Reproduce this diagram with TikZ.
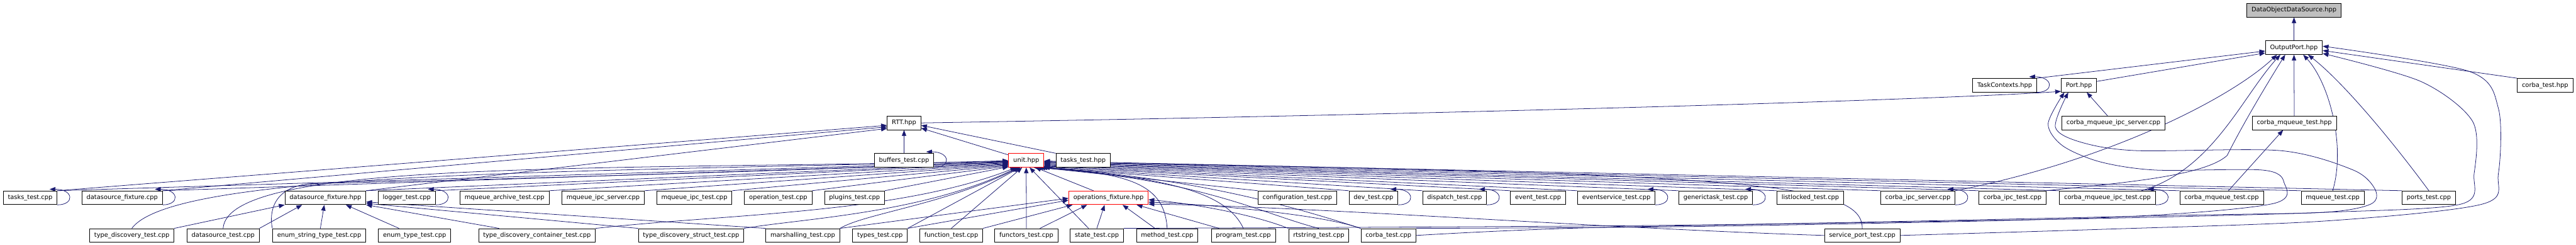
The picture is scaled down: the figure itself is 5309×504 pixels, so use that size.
\documentclass[tikz,border=0pt]{standalone}
\usepackage{fontspec}
\setmainfont{DejaVu Sans}
\usepackage{tikz}
\usetikzlibrary{arrows.meta}
\definecolor{edgeblue}{HTML}{191970}
\definecolor{rootgray}{HTML}{BFBFBF}
\pgfdeclarelayer{back}
\pgfsetlayers{back,main}
% a file that includes itself
\newcommand{\selfdep}[1]{%
  \draw[dep] (#1.south east) .. controls +(36,0) and +(50,0) .. ([xshift=-16pt,yshift=3pt]#1.north east);}

\begin{document}
\begin{tikzpicture}[x=1pt, y=-1pt,
  file/.style={draw=black, line width=1.1pt, fill=white, minimum height=28pt,
    inner xsep=9.5pt, inner ysep=0pt, text height=9.6pt, text depth=2.8pt,
    font=\fontsize{12.8}{15}\selectfont},
  rootfile/.style={file, fill=rootgray},
  redfile/.style={file, draw=red},
  dep/.style={draw=edgeblue, line width=1pt, -{Triangle[length=12pt,width=9pt]}}]
\useasboundingbox (0,0) rectangle (5309,504);

% headers at the top
\node[rootfile] (dods) at (4727.8,21) {DataObjectDataSource.hpp};
\node[file] (op) at (4727.7,98) {OutputPort.hpp};
\node[file] (tctx) at (4131.5,175.5) {TaskContexts.hpp};
\node[file] (port) at (4284.6,175.5) {Port.hpp};
\node[file] (cth) at (5245.3,175.5) {corba\_test.hpp};
\node[file] (rtt) at (1863.2,253) {RTT.hpp};
\node[file] (cmis) at (4355.6,253) {corba\_mqueue\_ipc\_server.cpp};
\node[file] (cmth) at (4728.4,253) {corba\_mqueue\_test.hpp};
\node[file] (bt) at (1863.2,330) {buffers\_test.cpp};
\node[redfile] (unit) at (2115,330) {unit.hpp};
\node[file] (tth) at (2232.4,330) {tasks\_test.hpp};

% middle row
\node[file] (tt) at (62.2,407) {tasks\_test.cpp};
\node[file] (dfc) at (251.8,407) {datasource\_fixture.cpp};
\node[file] (dfh) at (670.7,407) {datasource\_fixture.hpp};
\node[file] (lt) at (838.3,407) {logger\_test.cpp};
\node[file] (mat) at (1039.8,407) {mqueue\_archive\_test.cpp};
\node[file] (mis) at (1243,407) {mqueue\_ipc\_server.cpp};
\node[file] (mit) at (1431,407) {mqueue\_ipc\_test.cpp};
\node[file] (ot) at (1603.9,407) {operation\_test.cpp};
\node[file] (pt) at (1761.2,407) {plugins\_test.cpp};
\node[redfile] (ofh) at (2284.5,407) {operations\_fixture.hpp};
\node[file] (ct) at (2673.8,407) {configuration\_test.cpp};
\node[file] (dvt) at (2830.6,407) {dev\_test.cpp};
\node[file] (dpt) at (2997.8,407) {dispatch\_test.cpp};
\node[file] (evt) at (3169.8,407) {event\_test.cpp};
\node[file] (evst) at (3331.1,407) {eventservice\_test.cpp};
\node[file] (gtt) at (3536,407) {generictask\_test.cpp};
\node[file] (llt) at (3730.9,407) {listlocked\_test.cpp};
\node[file] (cis) at (3952.5,407) {corba\_ipc\_server.cpp};
\node[file] (cit) at (4147.6,407) {corba\_ipc\_test.cpp};
\node[file] (cmit) at (4343.4,407) {corba\_mqueue\_ipc\_test.cpp};
\node[file] (cmt) at (4578.6,407) {corba\_mqueue\_test.cpp};
\node[file] (mqt) at (4807.5,407) {mqueue\_test.cpp};
\node[file] (pot) at (5005.7,407) {ports\_test.cpp};

% bottom row
\node[file] (tdt) at (271.7,484.5) {type\_discovery\_test.cpp};
\node[file] (dst) at (459.8,484.5) {datasource\_test.cpp};
\node[file] (estt) at (657.8,484.5) {enum\_string\_type\_test.cpp};
\node[file] (ett) at (854.4,484.5) {enum\_type\_test.cpp};
\node[file] (tdct) at (1106.7,484.5) {type\_discovery\_container\_test.cpp};
\node[file] (tdst) at (1424.3,484.5) {type\_discovery\_struct\_test.cpp};
\node[file] (mt) at (1654.5,484.5) {marshalling\_test.cpp};
\node[file] (tyt) at (1813.7,484.5) {types\_test.cpp};
\node[file] (ft) at (1960.5,484.5) {function\_test.cpp};
\node[file] (fct) at (2115.3,484.5) {functors\_test.cpp};
\node[file] (stt) at (2260.5,484.5) {state\_test.cpp};
\node[file] (mtt) at (2405.4,484.5) {method\_test.cpp};
\node[file] (prt) at (2562.5,484.5) {program\_test.cpp};
\node[file] (rst) at (2717.9,484.5) {rtstring\_test.cpp};
\node[file] (ctc) at (2861.5,484.5) {corba\_test.cpp};
\node[file] (spt) at (3838,484.5) {service\_port\_test.cpp};

\begin{pgfonlayer}{back}
% OutputPort.hpp and Port.hpp
\draw[dep] (op) -- (dods);
\draw[dep] (tctx.north east) -- ([yshift=-7pt]op.west);
\draw[dep] ([yshift=8pt]port.east) -- ([yshift=-11pt]op.west);
\draw[dep] (cmth) -- (op);
\draw[dep] (cth.north west) -- ([yshift=-6pt]op.east);
\draw[dep] (cis.north east) .. controls (4350,330) and (4600,200) .. ([xshift=-35pt]op.south);
\draw[dep] ([xshift=70pt]cmit.north) .. controls (4560,350) and (4620,200) .. ([xshift=-28pt]op.south);
\draw[dep] (cit.north east) .. controls (4350,378) and (4540,365) .. (4590,320) .. controls (4625,250) and (4680,160) .. ([xshift=-18pt]op.south);
\draw[dep] (mqt.north) .. controls (4835,300) and (4800,170) .. ([xshift=19pt]op.south);
\draw[dep] (pot.north) .. controls (4930,290) and (4830,170) .. ([xshift=29pt]op.south);
\draw[dep] plot[smooth] coordinates {(ctc.east) (3300,468) (4300,450) (4789,437) (5072,420) (5099,357) (5096,250) (4990,168) ([yshift=-12pt]op.east)};
\draw[dep] plot[smooth] coordinates {(spt.east) (4330,472) (4789,455) (5116,420) (5149,357) (5149,223) (5089,147) ([yshift=3pt]op.east)};
\draw[dep] ([xshift=-12pt]cmis.north) -- ([xshift=16pt]port.south);
\draw[dep] (rtt.east) .. controls (3000,235) and (4000,205) .. ([yshift=2pt]port.south west);
\draw[dep] plot[smooth] coordinates {(stt.north east) (3500,463) (4500,443) (4789,437) (4886,420) (4895,390) (4850,350) (4700,310) (4404,310) (4290,293) (4236,262) ([xshift=-22pt]port.south)};
\draw[dep] plot[smooth] coordinates {(ctc.north east) (3500,466) (4330,448) (4680,420) (4707,375) (4663,350) (4443,350) (4328,333) (4251,300) (4221,255) ([xshift=-30pt]port.south)};
\draw[dep] ([xshift=14pt]cmt.north) -- ([xshift=-23pt]cmth.south);

% RTT.hpp
\draw[dep] (tt.north east) -- (rtt.188);
\draw[dep] (dfc.north east) -- (rtt.193);
\draw[dep] (dfh.north east) -- (rtt.198);
\draw[dep] (bt) -- (rtt);
\draw[dep] (unit) -- (rtt);
\draw[dep] (tth.north west) -- (rtt.-8);

% unit.hpp from the left
\draw[dep] (tt.north east) -- (unit.184);
\draw[dep] (dfc.north east) -- (unit.186);
\draw[dep] (dfh.north east) -- (unit.188);
\draw[dep] (lt.north east) -- (unit.190);
\draw[dep] (mat.north east) -- (unit.192);
\draw[dep] (mis.north east) -- (unit.194);
\draw[dep] (mit.north east) -- (unit.196);
\draw[dep] (ot.north east) -- (unit.198);
\draw[dep] (pt.north east) -- (unit.200);
\draw[dep] (tdt.north) .. controls (360,350) and (1200,355) .. (unit.181);
\draw[dep] (dst.north) .. controls (470,330) and (1200,350) .. (unit.183);
\draw[dep] (estt.north west) .. controls (555,440) and (560,385) .. (640,378) .. controls (1200,365) and (1800,345) .. (unit.185);
\draw[dep] (tdct.north east) .. controls (1500,440) and (1850,440) .. (unit.215);
\draw[dep] (tdst.north east) .. controls (1650,450) and (1900,440) .. (unit.220);
\draw[dep] (mt.north east) .. controls (1780,440) and (1950,420) .. (unit.225);
\draw[dep] (tyt.north east) -- (unit.230);
\draw[dep] (ft.north) -- (unit.240);
\draw[dep] (fct) -- (unit);
\draw[dep] ([xshift=-17pt]stt.north) -- (unit.-65);
\draw[dep] ([xshift=-31pt]ofh.north) -- (unit.-38);

% unit.hpp from the right
\draw[dep] (pot.north west) -- (unit.-2);
\draw[dep] (mqt.north west) -- (unit.-4);
\draw[dep] (cmt.north west) -- (unit.-6);
\draw[dep] (cmit.north west) -- (unit.-8);
\draw[dep] (cit.north west) -- (unit.-10);
\draw[dep] (cis.north west) -- (unit.-12);
\draw[dep] (llt.north west) -- (unit.-14);
\draw[dep] (gtt.north west) -- (unit.-16);
\draw[dep] (evst.north west) -- (unit.-18);
\draw[dep] (evt.north west) -- (unit.-20);
\draw[dep] (dpt.north west) -- (unit.-22);
\draw[dep] (dvt.north west) -- (unit.-25);
\draw[dep] (ct.north west) -- (unit.-28);
\draw[dep] (spt.north) .. controls (3838,375) and (3600,358) .. (unit.-5);
\draw[dep] (ctc.north west) .. controls (2650,420) and (2450,365) .. (unit.-32);
\draw[dep] (rst.north) .. controls (2600,440) and (2480,370) .. (unit.-36);
\draw[dep] (prt.north) .. controls (2530,400) and (2420,365) .. (unit.-40);
\draw[dep] (mtt.north) .. controls (2400,380) and (2330,355) .. (unit.-45);

% operations_fixture.hpp
\draw[dep] (tyt.north east) -- ([yshift=-5pt]ofh.west);
\draw[dep] (mt.north east) -- ([yshift=-1pt]ofh.west);
\draw[dep] (ft.north east) -- ([xshift=-74pt]ofh.south);
\draw[dep] ([xshift=28pt]fct.north) -- ([xshift=-44pt]ofh.south);
\draw[dep] (stt.north) -- ([xshift=-8pt]ofh.south);
\draw[dep] ([xshift=-25pt]mtt.north) -- ([xshift=29pt]ofh.south);
\draw[dep] ([xshift=-50pt]prt.north) -- ([xshift=58pt]ofh.south);
\draw[dep] (rst.north west) .. controls (2580,440) and (2450,418) .. ([yshift=-4pt]ofh.east);
\draw[dep] (ctc.north west) .. controls (2720,440) and (2480,420) .. ([yshift=-9pt]ofh.east);
\draw[dep] (spt.west) .. controls (3300,470) and (2700,425) .. ([yshift=-13pt]ofh.east);

% datasource_fixture.hpp
\draw[dep] (tdt.north east) -- (dfh.south west);
\draw[dep] (dst.north east) -- ([xshift=-48pt]dfh.south);
\draw[dep] (estt) -- (dfh);
\draw[dep] ([xshift=-32pt]ett.north) -- ([xshift=42pt]dfh.south);
\draw[dep] ([xshift=-78pt]tdct.north) -- (dfh.south east);
\draw[dep] (tdst.north west) -- ([yshift=3pt]dfh.south east);
\draw[dep] (mt.north west) -- ([yshift=6pt]dfh.south east);

% files that include themselves
\selfdep{tctx}
\selfdep{bt}
\selfdep{tt}
\selfdep{dfc}
\selfdep{lt}
\selfdep{dvt}
\selfdep{dpt}
\selfdep{evst}
\selfdep{gtt}
\selfdep{cis}
\selfdep{cmit}
\end{pgfonlayer}
\end{tikzpicture}
\end{document}
